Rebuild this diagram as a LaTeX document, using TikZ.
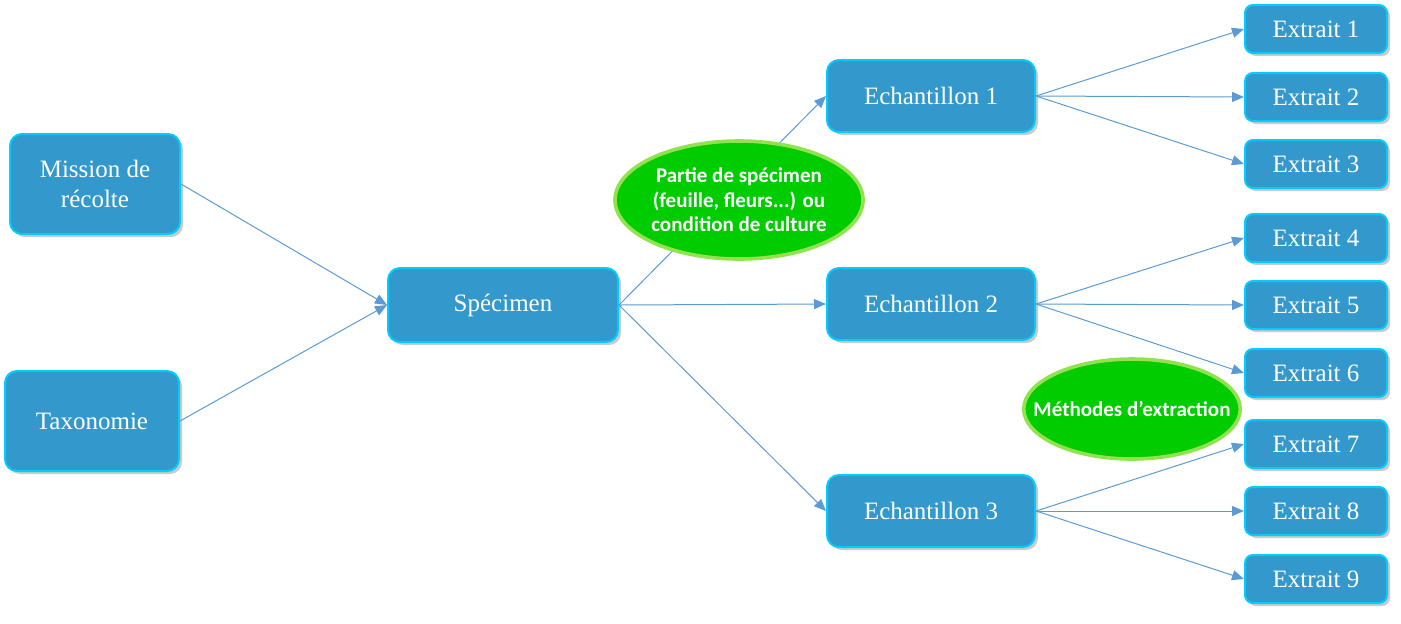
\documentclass[tikz,border=0pt]{standalone}
\usepackage{fontspec}
\setmainfont{Liberation Serif}
\newfontfamily\calloutfont{Carlito}
\usetikzlibrary{shapes.geometric,shadows,arrows.meta}
\definecolor{boxblue}{RGB}{51,153,204}
\definecolor{boxedge}{RGB}{0,204,255}
\definecolor{linkblue}{RGB}{91,155,213}
\definecolor{calloutgreen}{RGB}{0,204,0}
\definecolor{calloutedge}{RGB}{146,226,80}
\tikzset{
  box/.style={rounded corners=6pt, draw=boxedge, line width=1pt, fill=boxblue, text=white, align=center, inner sep=2pt, font=\fontsize{12.5}{15}\selectfont, drop shadow={shadow xshift=1.5pt, shadow yshift=-1.5pt, opacity=0.35, fill=black!60}},
  source box/.style={box, minimum width=85pt, minimum height=50pt},
  specimen box/.style={box, minimum width=115pt, minimum height=37pt},
  sample box/.style={box, minimum width=104pt, minimum height=36pt},
  extract box/.style={box, rounded corners=4pt, minimum width=71pt, minimum height=24pt},
  callout/.style={ellipse, draw=calloutedge, line width=1.8pt, fill=calloutgreen, text=white, align=center, inner sep=0pt, font=\calloutfont\bfseries\fontsize{10.5}{12.3}\selectfont},
  link/.style={draw=linkblue, line width=0.5pt, -{Triangle[length=6pt,width=5pt]}},
}
\begin{document}
\begin{tikzpicture}[x=0.5pt,y=-0.5pt]
\useasboundingbox (0,0) rectangle (1401,623);
% the nodes
\node [source box] (mission) at (95,184) {Mission de\\récolte};
\node [source box, minimum width=87pt] (taxo) at (92,421) {Taxonomie};
\node [specimen box] (spec) at (503,305) {Spécimen};
\node [sample box] (ech1) at (931,96) {Echantillon 1};
\node [sample box] (ech2) at (931,304) {Echantillon 2};
\node [sample box] (ech3) at (931,511) {Echantillon 3};
\foreach \i/\y in {1/29,2/97,3/164,4/238,5/305,6/373,7/444,8/511,9/579}
  \node [extract box] (ext\i) at (1316,\y) {Extrait \i};
%drawings of vectors
\draw[link] (mission.east) -- (spec.west);
\draw[link] (taxo.east) -- (spec.west);
\foreach \e in {1,2,3}
  \draw[link] (spec.east) -- (ech\e.west);
\foreach \e/\a/\b/\c in {1/1/2/3,2/4/5/6,3/7/8/9}{
  \draw[link] (ech\e.east) -- (ext\a.west);
  \draw[link] (ech\e.east) -- (ext\b.west);
  \draw[link] (ech\e.east) -- (ext\c.west);
}
% the callouts
\node [callout, minimum width=122pt, minimum height=59pt] (partie) at (739,200) {Partie de spécimen\\(feuille, fleurs...) ou\\condition de culture};
\node [callout, inner xsep=-11pt, minimum height=50pt] (methodes) at (1132,409) {Méthodes d’extraction};
\end{tikzpicture}
\end{document}
